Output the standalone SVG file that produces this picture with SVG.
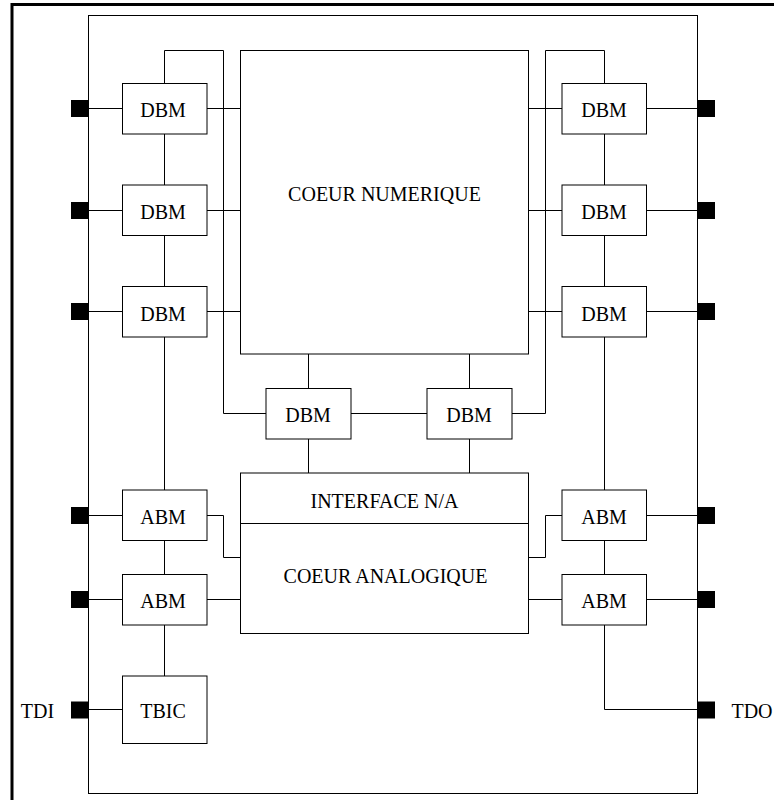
<svg xmlns="http://www.w3.org/2000/svg" width="774" height="800" viewBox="0 0 774 800">
<style>
.box{fill:#fff;stroke:#000;stroke-width:1}
.pin{fill:#000;stroke:none}
.w{fill:none;stroke:#000;stroke-width:1}
text{font-family:"Liberation Serif","Times New Roman",serif;font-size:20px;fill:#000;text-anchor:middle}
</style>
<rect x="0" y="0" width="774" height="800" fill="#fff"/>
<rect x="12" y="4.5" width="800" height="830" fill="none" stroke="#000" stroke-width="3"/>
<g id="chip"><rect x="88.5" y="15.5" width="609" height="778" fill="none" stroke="#000" stroke-width="1"/></g>

<g id="connectors" class="w">
<path d="M88 108.5H122M88 210.5H122M88 311.5H122M88 515.5H122M88 599.5H122M88 709.5H122"/>
<path d="M647 108.5H697M647 210.5H697M647 311.5H697M647 515.5H697M647 599.5H697"/>
<path d="M207 108.5H240M207 210.5H240M207 311.5H240"/>
<path d="M528 108.5H562M528 210.5H562M528 311.5H562"/>
<path d="M164.5 83V50.5H223.5V413.5H266"/>
<path d="M164.5 134V185M164.5 236V286M164.5 337V490M164.5 540V574M164.5 625V676"/>
<path d="M604.5 83V50.5H545.5V413.5H512"/>
<path d="M604.5 134V185M604.5 236V286M604.5 337V490M604.5 540V574M604.5 625V709.5H697"/>
<path d="M308.5 354V388M469.5 354V388M351 413.5H427M308.5 439V473M469.5 439V473"/>
<path d="M207 515.5H223.5V557.5H240M207 599.5H240"/>
<path d="M562 515.5H545.5V557.5H528M562 599.5H528"/>
</g>

<g id="pins">
<rect class="pin" x="71" y="100" width="17" height="17"/>
<rect class="pin" x="71" y="202" width="17" height="17"/>
<rect class="pin" x="71" y="303" width="17" height="17"/>
<rect class="pin" x="71" y="507" width="17" height="17"/>
<rect class="pin" x="71" y="591" width="17" height="17"/>
<rect class="pin" x="71" y="701.5" width="17" height="17"/>
<rect class="pin" x="698" y="100" width="17" height="17"/>
<rect class="pin" x="698" y="202" width="17" height="17"/>
<rect class="pin" x="698" y="303" width="17" height="17"/>
<rect class="pin" x="698" y="507" width="17" height="17"/>
<rect class="pin" x="698" y="591" width="17" height="17"/>
<rect class="pin" x="698" y="701.5" width="17" height="17"/>
</g>

<g id="coeur-numerique"><rect class="box" x="240.5" y="50.5" width="288" height="303.5"/><text x="384.5" y="201">COEUR NUMERIQUE</text></g>
<g id="analog"><rect class="box" x="240.5" y="473" width="288" height="160.5"/><line x1="240.5" y1="523.5" x2="528.5" y2="523.5" stroke="#000"/><text x="384.5" y="507.7">INTERFACE N/A</text><text x="385.5" y="583.3">COEUR ANALOGIQUE</text></g>

<g id="dbm-l1"><rect class="box" x="122.5" y="83.5" width="84.5" height="50.5"/><text x="163" y="117.3">DBM</text></g>
<g id="dbm-l2"><rect class="box" x="122.5" y="185" width="84.5" height="50.5"/><text x="163" y="219">DBM</text></g>
<g id="dbm-l3"><rect class="box" x="122.5" y="286.5" width="84.5" height="50.5"/><text x="163" y="320.5">DBM</text></g>
<g id="dbm-r1"><rect class="box" x="562" y="83.5" width="84.5" height="50.5"/><text x="604" y="117.3">DBM</text></g>
<g id="dbm-r2"><rect class="box" x="562" y="185" width="84.5" height="50.5"/><text x="604" y="219">DBM</text></g>
<g id="dbm-r3"><rect class="box" x="562" y="286.5" width="84.5" height="50.5"/><text x="604" y="320.5">DBM</text></g>
<g id="dbm-b1"><rect class="box" x="266" y="388.5" width="85" height="50.5"/><text x="308" y="422.3">DBM</text></g>
<g id="dbm-b2"><rect class="box" x="427" y="388.5" width="85" height="50.5"/><text x="469" y="422.3">DBM</text></g>
<g id="abm-l1"><rect class="box" x="122.5" y="490" width="84.5" height="50.5"/><text x="163" y="524">ABM</text></g>
<g id="abm-l2"><rect class="box" x="122.5" y="574.5" width="84.5" height="50.5"/><text x="163" y="608.3">ABM</text></g>
<g id="abm-r1"><rect class="box" x="562" y="490" width="84.5" height="50.5"/><text x="604" y="524">ABM</text></g>
<g id="abm-r2"><rect class="box" x="562" y="574.5" width="84.5" height="50.5"/><text x="604" y="608.3">ABM</text></g>
<g id="tbic"><rect class="box" x="122.5" y="676" width="84.5" height="67.5"/><text x="163" y="718.3">TBIC</text></g>
<g id="labels"><text x="37.5" y="718.3">TDI</text><text x="752" y="718.3">TDO</text></g>
</svg>
